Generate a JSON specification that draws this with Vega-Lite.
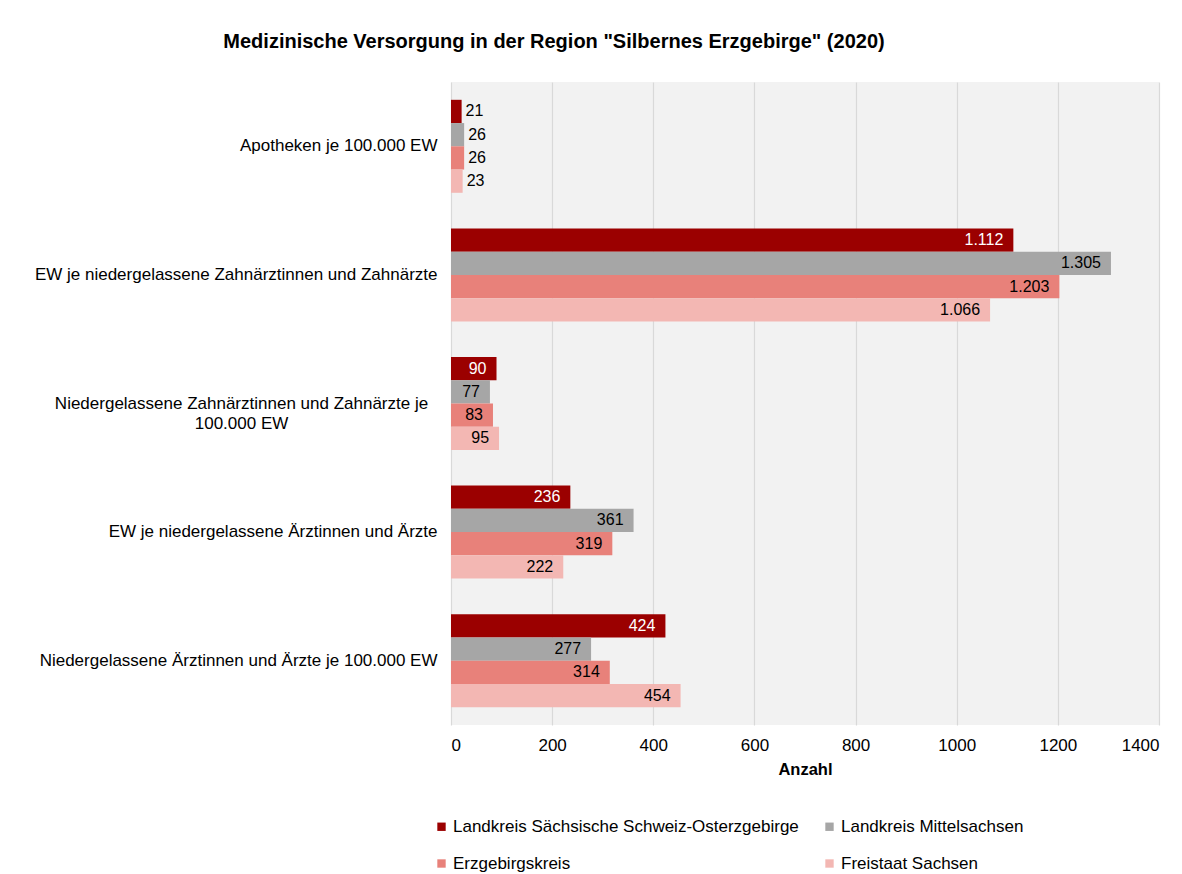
{
  "$schema": "https://vega.github.io/schema/vega-lite/v6.json",
  "width": 708,
  "height": 643,
  "autosize": {"type": "none"},
  "padding": {"left": 451, "top": 82, "right": 23, "bottom": 149},
  "background": "white",
  "title": {
    "text": "Medizinische Versorgung in der Region \"Silbernes Erzgebirge\" (2020)",
    "anchor": "middle",
    "dx": -251,
    "offset": 30,
    "fontSize": 20,
    "fontWeight": "bold",
    "font": "Liberation Sans",
    "color": "#000000"
  },
  "data": {
    "values": [
      {"Kategorie": "Apotheken je 100.000 EW", "Gebiet": "Landkreis Sächsische Schweiz-Osterzgebirge", "Wert": 21},
      {"Kategorie": "Apotheken je 100.000 EW", "Gebiet": "Landkreis Mittelsachsen", "Wert": 26},
      {"Kategorie": "Apotheken je 100.000 EW", "Gebiet": "Erzgebirgskreis", "Wert": 26},
      {"Kategorie": "Apotheken je 100.000 EW", "Gebiet": "Freistaat Sachsen", "Wert": 23},
      {"Kategorie": "EW je niedergelassene Zahnärztinnen und Zahnärzte", "Gebiet": "Landkreis Sächsische Schweiz-Osterzgebirge", "Wert": 1112},
      {"Kategorie": "EW je niedergelassene Zahnärztinnen und Zahnärzte", "Gebiet": "Landkreis Mittelsachsen", "Wert": 1305},
      {"Kategorie": "EW je niedergelassene Zahnärztinnen und Zahnärzte", "Gebiet": "Erzgebirgskreis", "Wert": 1203},
      {"Kategorie": "EW je niedergelassene Zahnärztinnen und Zahnärzte", "Gebiet": "Freistaat Sachsen", "Wert": 1066},
      {"Kategorie": "Niedergelassene Zahnärztinnen und Zahnärzte je 100.000 EW", "Gebiet": "Landkreis Sächsische Schweiz-Osterzgebirge", "Wert": 90},
      {"Kategorie": "Niedergelassene Zahnärztinnen und Zahnärzte je 100.000 EW", "Gebiet": "Landkreis Mittelsachsen", "Wert": 77},
      {"Kategorie": "Niedergelassene Zahnärztinnen und Zahnärzte je 100.000 EW", "Gebiet": "Erzgebirgskreis", "Wert": 83},
      {"Kategorie": "Niedergelassene Zahnärztinnen und Zahnärzte je 100.000 EW", "Gebiet": "Freistaat Sachsen", "Wert": 95},
      {"Kategorie": "EW je niedergelassene Ärztinnen und Ärzte", "Gebiet": "Landkreis Sächsische Schweiz-Osterzgebirge", "Wert": 236},
      {"Kategorie": "EW je niedergelassene Ärztinnen und Ärzte", "Gebiet": "Landkreis Mittelsachsen", "Wert": 361},
      {"Kategorie": "EW je niedergelassene Ärztinnen und Ärzte", "Gebiet": "Erzgebirgskreis", "Wert": 319},
      {"Kategorie": "EW je niedergelassene Ärztinnen und Ärzte", "Gebiet": "Freistaat Sachsen", "Wert": 222},
      {"Kategorie": "Niedergelassene Ärztinnen und Ärzte je 100.000 EW", "Gebiet": "Landkreis Sächsische Schweiz-Osterzgebirge", "Wert": 424},
      {"Kategorie": "Niedergelassene Ärztinnen und Ärzte je 100.000 EW", "Gebiet": "Landkreis Mittelsachsen", "Wert": 277},
      {"Kategorie": "Niedergelassene Ärztinnen und Ärzte je 100.000 EW", "Gebiet": "Erzgebirgskreis", "Wert": 314},
      {"Kategorie": "Niedergelassene Ärztinnen und Ärzte je 100.000 EW", "Gebiet": "Freistaat Sachsen", "Wert": 454}
    ]
  },
  "encoding": {
    "y": {
      "field": "Kategorie",
      "type": "nominal",
      "sort": [
        "Apotheken je 100.000 EW",
        "EW je niedergelassene Zahnärztinnen und Zahnärzte",
        "Niedergelassene Zahnärztinnen und Zahnärzte je 100.000 EW",
        "EW je niedergelassene Ärztinnen und Ärzte",
        "Niedergelassene Ärztinnen und Ärzte je 100.000 EW"
      ],
      "scale": {"paddingInner": 0.277, "paddingOuter": 0.1385},
      "title": null,
      "axis": {
        "domain": false,
        "ticks": false,
        "grid": false,
        "labelFontSize": 17,
        "labelColor": "#000000",
        "labelLimit": 440,
        "labelLineHeight": 20,
        "labelAlign": {
          "condition": {"test": "datum.value == 'Niedergelassene Zahnärztinnen und Zahnärzte je 100.000 EW'", "value": "center"},
          "value": "right"
        },
        "labelPadding": {
          "condition": {"test": "datum.value == 'Niedergelassene Zahnärztinnen und Zahnärzte je 100.000 EW'", "value": 210},
          "value": 14
        },
        "labelExpr": "datum.value == 'Niedergelassene Zahnärztinnen und Zahnärzte je 100.000 EW' ? ['Niedergelassene Zahnärztinnen und Zahnärzte je', '100.000 EW'] : datum.value"
      }
    },
    "yOffset": {
      "field": "Gebiet",
      "type": "nominal",
      "sort": [
        "Landkreis Sächsische Schweiz-Osterzgebirge",
        "Landkreis Mittelsachsen",
        "Erzgebirgskreis",
        "Freistaat Sachsen"
      ],
      "scale": {"paddingInner": 0, "paddingOuter": 0}
    },
    "x": {
      "field": "Wert",
      "type": "quantitative",
      "scale": {"domain": [0, 1400], "nice": false},
      "title": "Anzahl",
      "axis": {
        "values": [0, 200, 400, 600, 800, 1000, 1200, 1400],
        "format": "d",
        "domain": false,
        "ticks": false,
        "grid": true,
        "gridColor": "#d9d9d9",
        "gridWidth": 1.2,
        "labelFontSize": 17,
        "labelColor": "#000000",
        "labelPadding": 12,
        "titleFontSize": 16.5,
        "titleFontWeight": "bold",
        "titleColor": "#000000",
        "titlePadding": 8
      }
    }
  },
  "layer": [
    {
      "mark": {"type": "bar"},
      "encoding": {
        "color": {
          "field": "Gebiet",
          "type": "nominal",
          "sort": [
            "Landkreis Sächsische Schweiz-Osterzgebirge",
            "Landkreis Mittelsachsen",
            "Erzgebirgskreis",
            "Freistaat Sachsen"
          ],
          "scale": {"range": ["#9b0000", "#a6a6a6", "#e8817a", "#f3b7b3"]},
          "legend": {
            "orient": "none",
            "direction": "horizontal",
            "legendX": -18,
            "legendY": 736,
            "columns": 2,
            "columnPadding": 22,
            "rowPadding": 19,
            "symbolType": "square",
            "symbolSize": 70,
            "symbolStrokeWidth": 0,
            "labelFontSize": 17,
            "labelColor": "#000000",
            "labelLimit": 500,
            "labelOffset": 3,
            "title": null,
            "padding": 0
          }
        }
      }
    },
    {
      "transform": [{"filter": "datum.Wert >= 50"}],
      "mark": {"type": "text", "align": "right", "dx": -10, "fontSize": 16},
      "encoding": {
        "text": {"field": "Wert", "type": "quantitative", "format": ",d"},
        "color": {
          "condition": {"test": "datum.Gebiet == 'Landkreis Sächsische Schweiz-Osterzgebirge'", "value": "#ffffff"},
          "value": "#000000"
        }
      }
    },
    {
      "transform": [{"filter": "datum.Wert < 50"}],
      "mark": {"type": "text", "align": "left", "dx": 4, "fontSize": 16},
      "encoding": {
        "text": {"field": "Wert", "type": "quantitative", "format": ",d"},
        "color": {"value": "#000000"}
      }
    }
  ],
  "config": {
    "font": "Liberation Sans",
    "locale": {
      "number": {"decimal": ",", "thousands": ".", "grouping": [3], "currency": ["", " €"]}
    },
    "view": {"fill": "#f2f2f2", "stroke": null}
  }
}
